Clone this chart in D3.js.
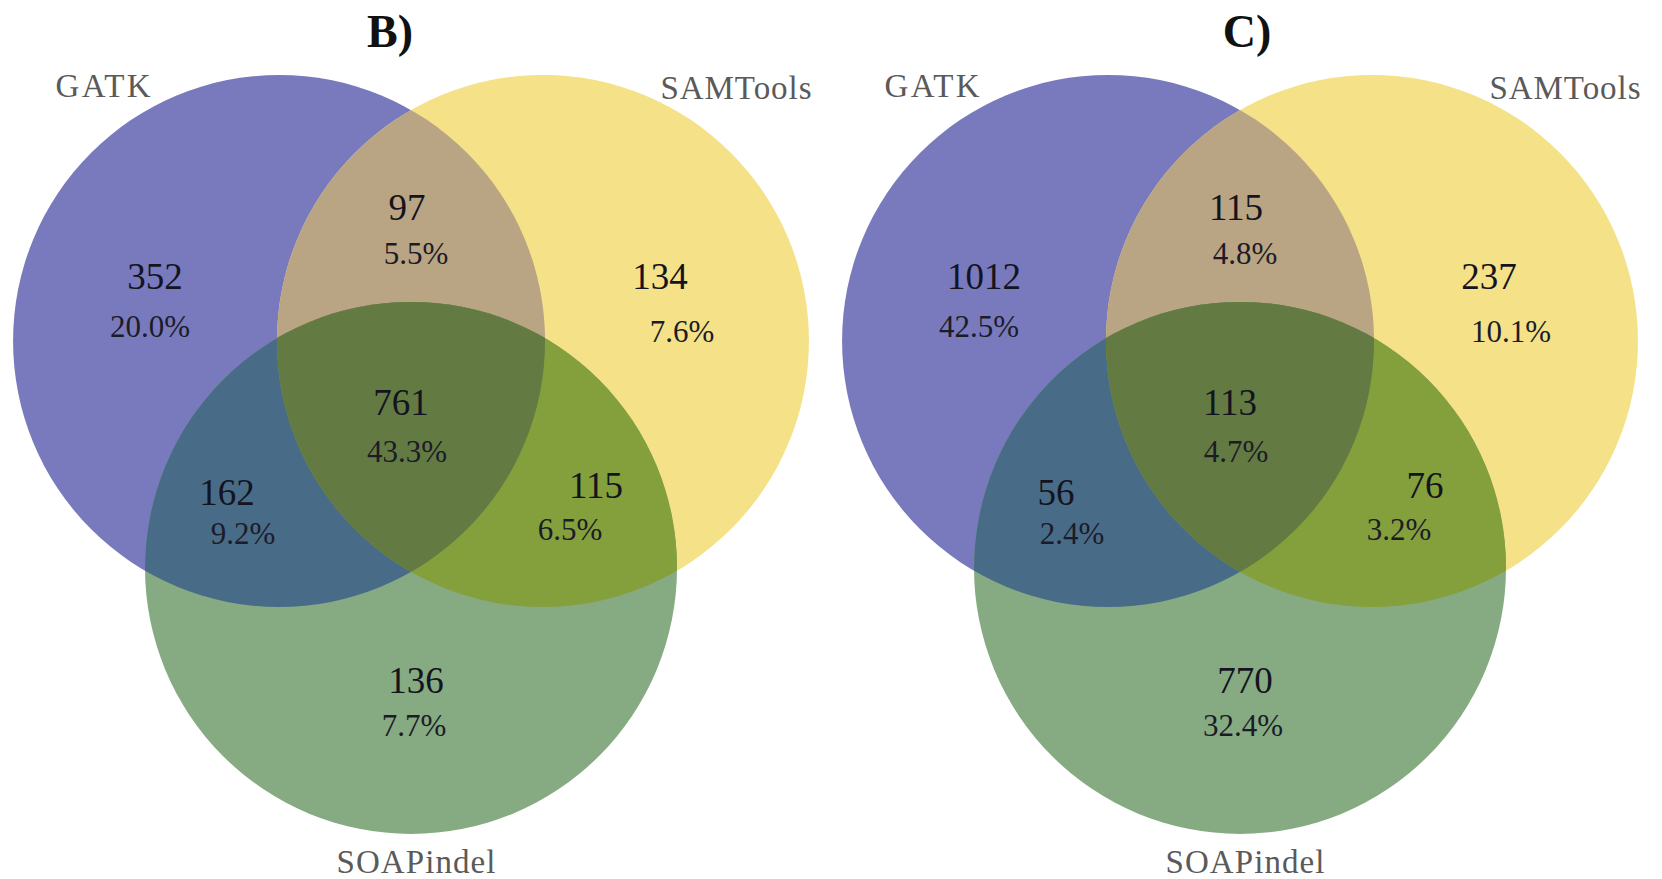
<!DOCTYPE html>
<html>
<head>
<meta charset="utf-8">
<script src="https://cdn.jsdelivr.net/npm/d3@7"></script>
<style>
  html, body { margin: 0; padding: 0; background: #fff; }
  svg { display: block; }
</style>
</head>
<body>
<svg id="chart" width="1662" height="879"></svg>
<script>
// Panels and set names
const panels = ["B)", "C)"];
const setNames = ["GATK", "SAMTools", "SOAPindel"];

// Region order: GATK only, SAMTools only, SOAPindel only,
// GATK∩SAMTools, GATK∩SOAPindel, SAMTools∩SOAPindel, all three
const regions = ["G", "S", "P", "GS", "GP", "SP", "GSP"];
const countsB = [352, 134, 136, 97, 162, 115, 761];
const percentB = [20.0, 7.6, 7.7, 5.5, 9.2, 6.5, 43.3];
const countsC = [1012, 237, 770, 115, 56, 76, 113];
const percentC = [42.5, 10.1, 32.4, 4.8, 2.4, 3.2, 4.7];

const panelData = [
  { title: panels[0], counts: countsB, percents: percentB },
  { title: panels[1], counts: countsC, percents: percentC }
];

const svg = d3.select("#chart");

// One band per panel
const px = d3.scaleBand().domain(panels).range([0, 1658]);

// Venn layout in circle-radius units, mapped to pixels
const R = 266;
const ux = d3.scaleLinear().domain([0, 1]).range([411, 411 + R]);
const uy = d3.scaleLinear().domain([0, 1]).range([341, 341 + R]);
const circles = [
  { name: setNames[0], cx: -0.496, cy: 0,     fill: "#787abd" },
  { name: setNames[1], cx: 0.496,  cy: 0,     fill: "#f4e188" },
  { name: setNames[2], cx: 0,      cy: 0.853, fill: "#86ab82" }
];
const overlapFill = { GS: "#b9a583", GP: "#486c88", SP: "#84a03d", GSP: "#637b43" };

// Label anchors for each region (px offsets within a panel)
const numPos = {
  G: [155, 289], S: [660, 289], P: [416, 693],
  GS: [407, 220], GP: [227, 505], SP: [596, 498], GSP: [401, 415]
};
const pctPos = {
  G: [150, 337], S: [682, 342], P: [414, 736],
  GS: [416, 264], GP: [243, 544], SP: [570, 540], GSP: [407, 462]
};
const setLabelPos = [
  { x: 103, y: 97, len: 95 },
  { x: 736, y: 99, len: 151 },
  { x: 416, y: 873, len: 159 }
];
const titleX = [390, 1247];

const defs = svg.append("defs");

panelData.forEach((pd, pi) => {
  const ox = px(pd.title);
  const g = svg.append("g").attr("transform", `translate(${ox},0)`);
  const idp = "p" + pi;

  // clip paths for each circle
  circles.forEach((c, ci) => {
    defs.append("clipPath").attr("id", `${idp}c${ci}`)
      .append("circle")
      .attr("cx", ox + ux(c.cx)).attr("cy", uy(c.cy)).attr("r", R);
  });

  const drawCircle = (sel, ci, fill) => sel.append("circle")
    .attr("cx", ux(circles[ci].cx)).attr("cy", uy(circles[ci].cy))
    .attr("r", R).attr("fill", fill);

  // base circles
  circles.forEach((c, ci) => drawCircle(g, ci, c.fill));

  // pairwise overlaps (clip applied in outer user space, hence wrapper groups)
  const pair = (a, b, fill) => {
    const wrap = svg.append("g").attr("clip-path", `url(#${idp}c${a})`);
    const inner = wrap.append("g").attr("transform", `translate(${ox},0)`);
    drawCircle(inner, b, fill);
  };
  pair(0, 1, overlapFill.GS);
  pair(0, 2, overlapFill.GP);
  pair(1, 2, overlapFill.SP);

  // triple overlap
  const w1 = svg.append("g").attr("clip-path", `url(#${idp}c0)`);
  const w2 = w1.append("g").attr("clip-path", `url(#${idp}c1)`);
  const inner3 = w2.append("g").attr("transform", `translate(${ox},0)`);
  drawCircle(inner3, 2, overlapFill.GSP);

  // text layer
  const t = svg.append("g").attr("transform", `translate(${ox},0)`)
    .style("font-family", "'Liberation Serif', 'Times New Roman', serif");

  regions.forEach((r, ri) => {
    t.append("text")
      .attr("x", numPos[r][0]).attr("y", numPos[r][1])
      .attr("text-anchor", "middle")
      .attr("font-size", 37).attr("fill", "#14141e")
      .text(pd.counts[ri]);
    t.append("text")
      .attr("x", pctPos[r][0]).attr("y", pctPos[r][1])
      .attr("text-anchor", "middle")
      .attr("font-size", 31).attr("fill", "#1c1c28")
      .text(d3.format(".1f")(pd.percents[ri]) + "%");
  });

  setNames.forEach((n, ni) => {
    const p = setLabelPos[ni];
    t.append("text")
      .attr("x", p.x).attr("y", p.y)
      .attr("text-anchor", "middle")
      .attr("font-size", 33).attr("fill", "#5a5a5a")
      .attr("textLength", p.len).attr("lengthAdjust", "spacing")
      .text(n);
  });

  svg.append("text")
    .attr("x", titleX[pi]).attr("y", 47)
    .attr("text-anchor", "middle")
    .style("font-family", "'Liberation Serif', 'Times New Roman', serif")
    .attr("font-size", 46).attr("font-weight", "bold").attr("fill", "#111")
    .text(pd.title);
});
</script>
</body>
</html>
